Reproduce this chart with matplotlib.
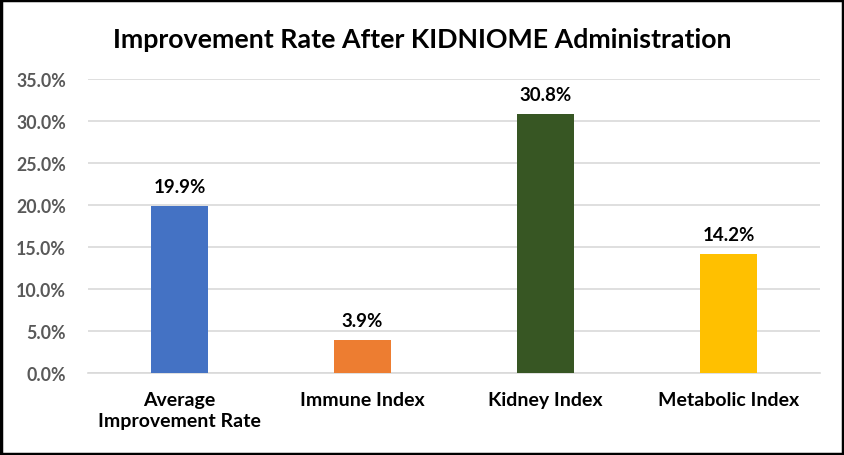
import matplotlib
matplotlib.use("Agg")
import matplotlib.pyplot as plt
from matplotlib.patches import Rectangle
from matplotlib.ticker import FuncFormatter

categories = ["Average\nImprovement Rate", "Immune Index", "Kidney Index", "Metabolic Index"]
values = [19.9, 3.9, 30.8, 14.2]
colors = ["#4472C4", "#ED7D31", "#375623", "#FFC000"]
y_ticks = [0, 5, 10, 15, 20, 25, 30, 35]

plt.rcParams["font.family"] = ["Lato", "DejaVu Sans"]

fig = plt.figure(figsize=(8.45, 4.56), dpi=100)
ax = fig.add_axes([88 / 845, 1 - 374 / 456, (820 - 88) / 845, (374 - 80) / 456])

x = range(len(categories))
ax.bar(x, values, width=0.31, color=colors, zorder=3)

for xi, v in zip(x, values):
    ax.annotate(f"{v:.1f}%", (xi, v), xytext=(0, 8), textcoords="offset points",
                ha="center", va="bottom", fontsize=13.5, fontweight="bold", color="black")

ax.set_xlim(-0.5, len(categories) - 0.5)
ax.set_ylim(0, 35)
ax.set_yticks(y_ticks)
ax.yaxis.set_major_formatter(FuncFormatter(lambda v, _: f"{v:.1f}%"))
ax.set_xticks(list(x))
ax.set_xticklabels(categories, fontsize=14, fontweight="bold", color="black", linespacing=1.25, va="top")
for lbl in ax.get_yticklabels():
    lbl.set_fontsize(12.8)
    lbl.set_fontweight("bold")
    lbl.set_color("#595959")

ax.grid(axis="y", color="#D9D9D9", linewidth=1.2, zorder=0)
ax.tick_params(axis="both", length=0)
ax.tick_params(axis="x", pad=13)
ax.tick_params(axis="y", pad=16)
for side in ["top", "right", "left"]:
    ax.spines[side].set_visible(False)
ax.spines["bottom"].set_color("#D9D9D9")
ax.spines["bottom"].set_linewidth(1.2)

fig.text(422 / 845, 1 - 40 / 456, "Improvement Rate After KIDNIOME Administration",
         ha="center", va="center", fontsize=19.3, fontweight="bold", color="black")

fig.patches.append(Rectangle((0.001, 0.002), 0.997, 0.995, transform=fig.transFigure,
                             fill=False, edgecolor="black", linewidth=2.5))

fig.savefig("out.png", dpi=100)
